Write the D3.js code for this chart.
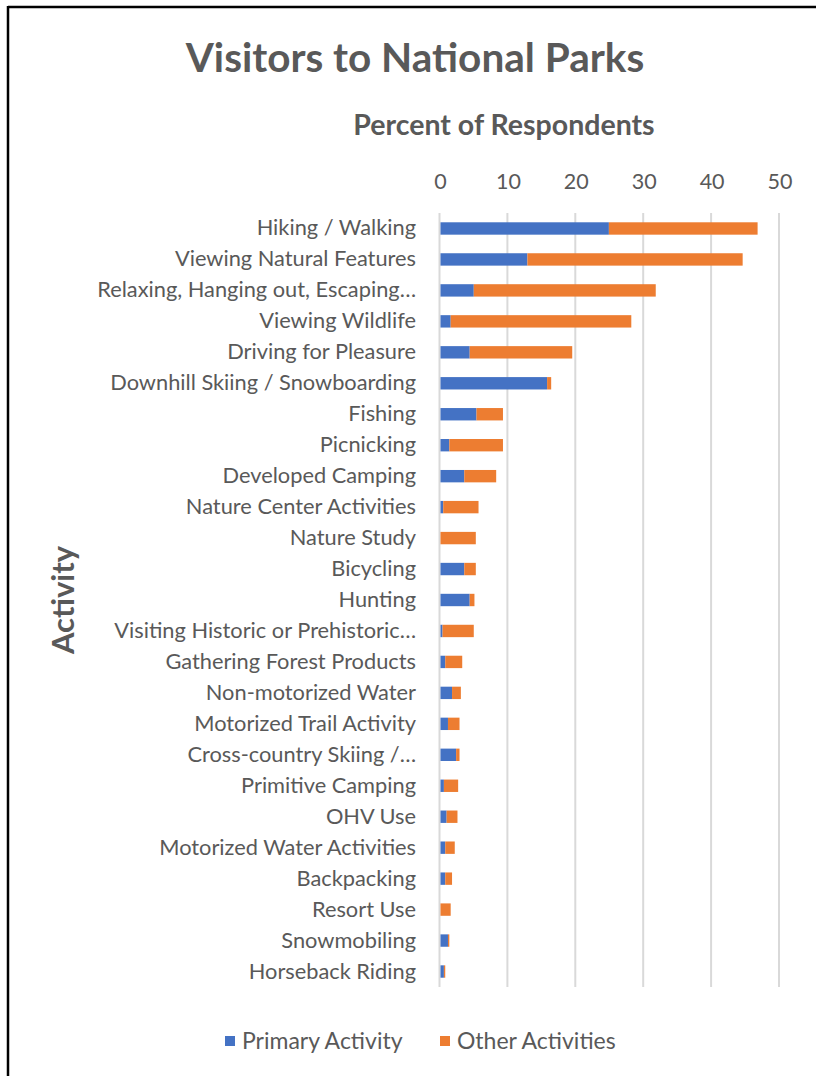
<!DOCTYPE html>
<html><head><meta charset="utf-8">
<script src="https://cdn.jsdelivr.net/npm/d3@7"></script>
<style>
html,body{margin:0;padding:0;background:#fff;}
svg{display:block;}
text{font-family:Lato,"Open Sans",sans-serif;}
</style></head>
<body>
<svg id="chart" width="816" height="1076"></svg>
<script>
const categories = ["Hiking / Walking","Viewing Natural Features","Relaxing, Hanging out, Escaping…","Viewing Wildlife","Driving for Pleasure","Downhill Skiing / Snowboarding","Fishing","Picnicking","Developed Camping","Nature Center Activities","Nature Study","Bicycling","Hunting","Visiting Historic or Prehistoric…","Gathering Forest Products","Non-motorized Water","Motorized Trail Activity","Cross-country Skiing /…","Primitive Camping","OHV Use","Motorized Water Activities","Backpacking","Resort Use","Snowmobiling","Horseback Riding"];
const primary = [24.8,12.8,4.9,1.5,4.3,15.7,5.3,1.3,3.5,0.4,0,3.5,4.3,0.3,0.7,1.7,1.1,2.3,0.5,0.9,0.7,0.7,0,1.1,0.5];
const other = [21.9,31.7,26.8,26.6,15.1,0.6,3.9,7.9,4.7,5.2,5.2,1.7,0.7,4.6,2.5,1.3,1.7,0.5,2.1,1.6,1.4,1.0,1.5,0.2,0.2];
const xTicks = [0,10,20,30,40,50];
const seriesNames = ["Primary Activity","Other Activities"];
const colors = ["#4472C4","#ED7D31"];

const svg = d3.select("#chart");
const grey = "#595959";

// frame lines (top + left)
svg.append("line").attr("x1",8).attr("x2",816).attr("y1",7).attr("y2",7).attr("stroke","#000").attr("stroke-width",2.5);
svg.append("line").attr("x1",8).attr("x2",8).attr("y1",6).attr("y2",1076).attr("stroke","#000").attr("stroke-width",2.5);

const plotLeft = 440, plotTop = 213, plotBottom = 987;
const x = d3.scaleLinear().domain([0,50]).range([plotLeft, plotLeft + 50*6.79]);
const y = d3.scaleBand().domain(categories).range([plotTop, plotBottom]).paddingInner(0.6).paddingOuter(0.3);

// gridlines
svg.append("g").selectAll("line").data(xTicks).join("line")
  .attr("x1",d=>x(d)-0.5).attr("x2",d=>x(d)-0.5).attr("y1",plotTop).attr("y2",plotBottom)
  .attr("stroke","#d9d9d9").attr("stroke-width",2);

// x axis tick labels
const xAxis = d3.axisTop(x).tickValues(xTicks).tickSize(0).tickPadding(0);
const gx = svg.append("g").attr("transform",`translate(0,189)`).call(xAxis);
gx.select(".domain").remove();
gx.selectAll("text").attr("fill",grey).style("font-size","21.5px").style("font-family","Lato,sans-serif");

// y axis labels
const yAxis = d3.axisLeft(y).tickSize(0).tickPadding(0);
const gy = svg.append("g").attr("transform",`translate(416,0)`).call(yAxis);
gy.select(".domain").remove();
gy.selectAll("text").attr("fill",grey).style("font-size","21.8px").style("font-family","Lato,sans-serif");

// stacked bars
const rows = categories.map((c,i)=>({cat:c, Primary:primary[i], Other:other[i]}));
const stack = d3.stack().keys(["Primary","Other"])(rows);
svg.append("g").selectAll("g").data(stack).join("g")
  .attr("fill",(d,i)=>colors[i])
  .selectAll("rect").data(d=>d).join("rect")
  .attr("x",d=>x(d[0])+0.5)
  .attr("width",d=>Math.max(0,x(d[1])-x(d[0])))
  .attr("y",d=>y(d.data.cat))
  .attr("height",y.bandwidth());

// titles
svg.append("text").attr("x",415).attr("y",72).attr("text-anchor","middle")
  .attr("fill",grey).style("font-size","40.5px").style("font-weight","bold").text("Visitors to National Parks");
svg.append("text").attr("x",504).attr("y",135).attr("text-anchor","middle")
  .attr("fill",grey).style("font-size","28.5px").style("font-weight","bold").text("Percent of Respondents");
svg.append("text").attr("transform","translate(74,600) rotate(-90)").attr("text-anchor","middle")
  .attr("fill",grey).style("font-size","31px").style("font-weight","bold").text("Activity");

// legend
const leg = svg.append("g");
const legX = [225,440];
seriesNames.forEach((n,i)=>{
  leg.append("rect").attr("x",legX[i]).attr("y",1036).attr("width",10).attr("height",10).attr("fill",colors[i]);
  leg.append("text").attr("x",legX[i]+17).attr("y",1049).attr("fill",grey).style("font-size","23px").text(n);
});
</script>
</body></html>
